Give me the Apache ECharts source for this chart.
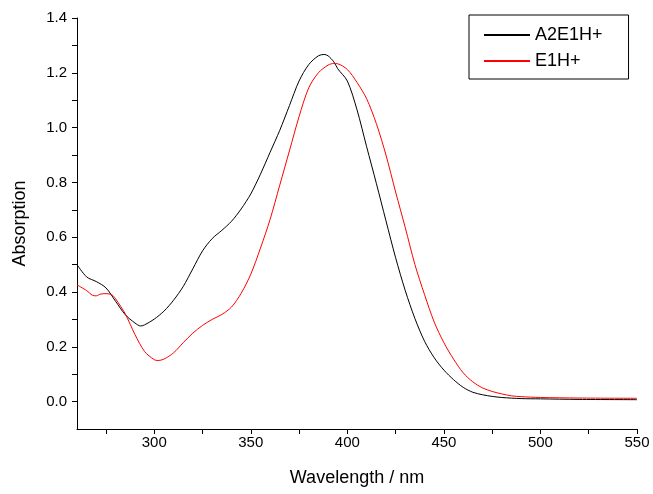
<!DOCTYPE html>
<html>
<head>
<meta charset="utf-8">
<script src="https://cdn.jsdelivr.net/npm/echarts@6/dist/echarts.min.js"></script>
<style>
    html, body { margin: 0; padding: 0; background: #fff; }
    #container { width: 653px; height: 494px; }
</style>
</head>
<body>
<div id="container"></div>
<script>
"use strict";

// 吸收光谱数据 (nm, absorption)
const seriesNames = ['A2E1H+', 'E1H+'];

const a2e1hWave = [260, 265, 270, 275, 280, 285, 290, 293, 295, 300, 305, 310, 315, 320, 325, 330, 335, 340, 345, 350,
    355, 360, 365, 370, 375, 380, 385, 388, 390, 393, 395, 400, 405, 410, 415, 420, 425, 430, 435, 440,
    445, 450, 455, 460, 465, 470, 475, 480, 490, 500, 520, 550];
const a2e1hAbs = [0.500, 0.455, 0.438, 0.415, 0.366, 0.317, 0.287, 0.276, 0.280, 0.301, 0.330, 0.370, 0.420, 0.485, 0.550, 0.595, 0.625, 0.658, 0.703, 0.758,
    0.830, 0.910, 0.990, 1.080, 1.170, 1.230, 1.262, 1.267, 1.262, 1.240, 1.215, 1.170, 1.065, 0.930, 0.797, 0.660, 0.525, 0.405, 0.303, 0.220,
    0.160, 0.115, 0.080, 0.052, 0.034, 0.025, 0.019, 0.015, 0.011, 0.010, 0.008, 0.007];

const e1hWave = [260, 265, 268, 270, 272, 275, 278, 280, 285, 290, 295, 300, 302, 305, 310, 315, 320, 325, 330, 335,
    340, 345, 350, 355, 360, 365, 370, 375, 380, 385, 390, 393, 395, 400, 405, 410, 415, 420, 425, 430,
    435, 440, 445, 450, 455, 460, 465, 470, 475, 480, 485, 490, 500, 520, 550];
const e1hAbs = [0.426, 0.405, 0.388, 0.386, 0.392, 0.394, 0.390, 0.375, 0.320, 0.245, 0.183, 0.153, 0.150, 0.155, 0.178, 0.215, 0.250, 0.278, 0.300, 0.318,
    0.345, 0.395, 0.465, 0.560, 0.665, 0.790, 0.915, 1.040, 1.145, 1.200, 1.228, 1.234, 1.233, 1.212, 1.165, 1.105, 1.015, 0.900, 0.765, 0.635,
    0.500, 0.390, 0.290, 0.215, 0.155, 0.105, 0.072, 0.050, 0.037, 0.028, 0.021, 0.018, 0.015, 0.013, 0.012];

const xLabelValues = [300, 350, 400, 450, 500, 550];
const xTickValues = [275, 300, 325, 350, 375, 400, 425, 450, 475, 500, 525, 550];
const yLabelValues = [0, 0.2, 0.4, 0.6, 0.8, 1.0, 1.2, 1.4];
const yTickValues = [0, 0.1, 0.2, 0.3, 0.4, 0.5, 0.6, 0.7, 0.8, 0.9, 1.0, 1.1, 1.2, 1.3, 1.4];

function pairs(xs, ys) {
    return xs.map(function (x, i) { return [x, ys[i]]; });
}

let myChart = echarts.init(document.getElementById('container'));

const font = 'Liberation Sans, Arial, sans-serif';
const axisStyle = {
    axisLine: { show: true, onZero: false, lineStyle: { color: '#000', width: 1 } },
    splitLine: { show: false },
};

let option = {
    animation: false,
    backgroundColor: '#fff',
    textStyle: { fontFamily: font, color: '#000' },
    grid: { left: 77, right: 16, top: 18, bottom: 65 },
    legend: {
        orient: 'vertical',
        left: 469,
        top: 15,
        padding: [11, 26, 9, 15],
        itemWidth: 46,
        itemHeight: 2,
        itemGap: 8,
        icon: 'rect',
        borderColor: '#000',
        borderWidth: 1,
        textStyle: { fontSize: 18, color: '#000', fontFamily: font },
        data: seriesNames
    },
    xAxis: Object.assign({
        type: 'value',
        min: 260,
        max: 550,
        name: 'Wavelength / nm',
        nameLocation: 'middle',
        nameGap: 40,
        nameTextStyle: { fontSize: 18, color: '#000', fontFamily: font },
        axisTick: { show: true, inside: false, length: 5, customValues: xTickValues, lineStyle: { color: '#000' } },
        axisLabel: { fontSize: 15, color: '#000', margin: 6, customValues: xLabelValues }
    }, axisStyle),
    yAxis: Object.assign({
        type: 'value',
        min: -0.1,
        max: 1.4,
        name: 'Absorption',
        nameLocation: 'middle',
        nameGap: 48,
        nameTextStyle: { fontSize: 18, color: '#000', fontFamily: font },
        axisTick: { show: true, inside: false, length: 5, customValues: yTickValues, lineStyle: { color: '#000' } },
        axisLabel: {
            fontSize: 15, color: '#000', margin: 10, customValues: yLabelValues,
            formatter: function (v) { return v.toFixed(1); }
        }
    }, axisStyle),
    series: [
        {
            name: seriesNames[0],
            type: 'line',
            showSymbol: false,
            smooth: 0.3,
            color: '#000',
            lineStyle: { width: 1, color: '#000' },
            data: pairs(a2e1hWave, a2e1hAbs)
        },
        {
            name: seriesNames[1],
            type: 'line',
            showSymbol: false,
            smooth: 0.3,
            color: '#ff0000',
            lineStyle: { width: 1, color: '#ff0000' },
            data: pairs(e1hWave, e1hAbs)
        }
    ]
};

myChart.setOption(option);
</script>
</body>
</html>
